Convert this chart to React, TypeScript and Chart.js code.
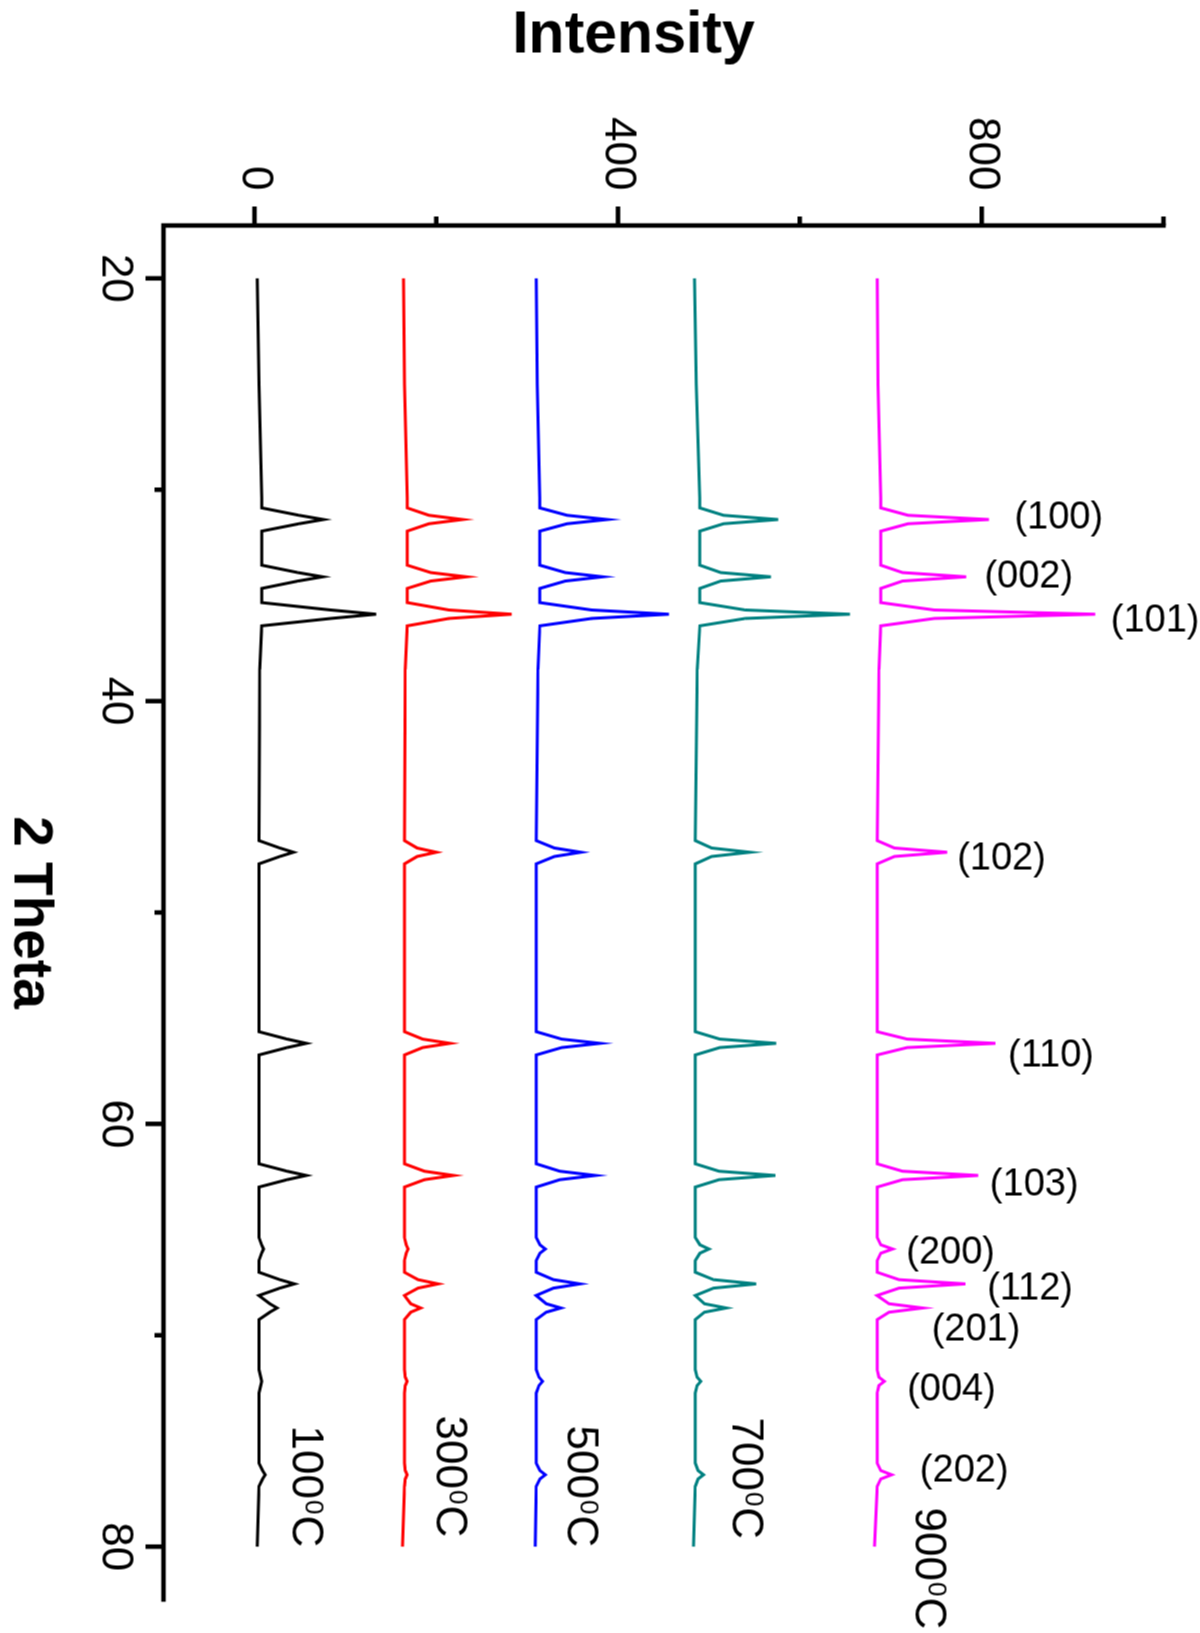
import { useEffect, useRef } from "react";
import { Chart, registerables } from "chart.js";

Chart.register(...registerables);
Chart.defaults.font.family = "'Liberation Sans', Arial, Helvetica, sans-serif";
Chart.defaults.color = "#000";

// 2-theta positions shared by all traces (degrees): background, then for each
// reflection the foot, shoulder, apex, shoulder, foot
const twoTheta = [
  20, 25, 30.4,
  30.86, 31.21, 31.41, 31.61, 31.96,
  33.57, 33.92, 34.12, 34.32, 34.67,
  35.34, 35.69, 35.89, 36.09, 36.44,
  38.5,
  46.6, 46.95, 47.15, 47.35, 47.7,
  55.64, 55.99, 56.19, 56.39, 56.74,
  61.89, 62.24, 62.44, 62.64, 62.99,
  65.37, 65.72, 65.92, 66.12, 66.47,
  67.02, 67.37, 67.57, 67.77, 68.12,
  68.16, 68.51, 68.71, 68.91, 69.26,
  71.63, 71.98, 72.18, 72.38, 72.73,
  76.05, 76.4, 76.6, 76.8, 77.15,
  80,
];

// plotted intensity (stacked offsets included)
const trace100 = [
  3, 5, 8,
  8, 49, 76, 49, 8,
  8, 48, 75, 48, 8,
  8, 84, 134, 84, 8,
  6,
  5, 28, 43, 28, 5,
  5, 36, 57, 36, 5,
  5, 36, 57, 36, 5,
  5, 8, 10, 8, 5,
  5, 28, 44, 28, 5,
  5, 17, 25, 17, 5,
  5, 7, 8, 7, 5,
  5, 9, 12, 9, 5,
  3,
];
const trace300 = [
  164, 165, 168,
  168, 192, 229, 192, 168,
  168, 194, 233, 194, 168,
  168, 214, 283, 214, 168,
  166,
  165, 179, 200, 179, 165,
  165, 185, 215, 185, 165,
  165, 187, 219, 187, 165,
  165, 167, 169, 167, 165,
  165, 180, 202, 180, 165,
  165, 172, 183, 172, 165,
  165, 166, 168, 166, 165,
  165, 166, 168, 166, 165,
  163,
];
const trace500 = [
  310, 311, 314,
  314, 344, 388, 344, 314,
  314, 342, 383, 342, 314,
  314, 371, 456, 371, 314,
  312,
  310, 330, 359, 330, 310,
  310, 338, 380, 338, 310,
  310, 336, 375, 336, 310,
  310, 314, 320, 314, 310,
  310, 329, 358, 329, 310,
  310, 321, 337, 321, 310,
  310, 313, 317, 313, 310,
  310, 314, 320, 314, 310,
  309,
];
const trace700 = [
  484, 486, 490,
  490, 516, 576, 516, 490,
  490, 513, 568, 513, 490,
  490, 540, 655, 540, 490,
  487,
  485, 503, 545, 503, 485,
  485, 512, 574, 512, 485,
  485, 511, 573, 511, 485,
  485, 490, 500, 490, 485,
  485, 505, 552, 505, 485,
  485, 495, 519, 495, 485,
  485, 487, 491, 487, 485,
  485, 488, 494, 488, 485,
  483,
];
const trace900 = [
  685, 686, 689,
  689, 719, 808, 719, 689,
  689, 713, 783, 713, 689,
  689, 748, 925, 748, 689,
  687,
  685, 704, 762, 704, 685,
  685, 718, 815, 718, 685,
  685, 713, 796, 713, 685,
  685, 689, 702, 689, 685,
  685, 709, 782, 709, 685,
  685, 698, 735, 698, 685,
  685, 687, 693, 687, 685,
  685, 689, 701, 689, 685,
  682,
];

const temperatures = ["100", "300", "500", "700", "900"];
const colors = ["#000000", "#ff0000", "#0000ff", "#008080", "#ff00ff"];
// temperature label anchors: start (2-theta) and baseline (intensity)
const tempLabelTheta = [74.27, 73.8, 74.27, 73.89, 78.15];
const tempLabelIntensity = [42, 200, 344, 526, 727];

const hklLabels = ["(100)", "(002)", "(101)", "(102)", "(110)", "(103)", "(200)", "(112)", "(201)", "(004)", "(202)"];
const hklTheta = [31.36, 34.13, 36.19, 47.45, 56.77, 62.87, 66.09, 67.79, 69.73, 72.61, 76.4];
const hklIntensity = [836, 803, 942, 773, 829, 809, 717, 806, 745, 718, 732];

const thetaTicks = [20, 40, 60, 80];
const thetaMinorTicks = [30, 50, 70];
const intensityTicks = [0, 400, 800];
const intensityMinorTicks = [200, 600, 1000];

const FONT = "'Liberation Sans', Arial, Helvetica, sans-serif";

const xrdPlugin = {
  id: "xrdDecor",
  afterDraw(chart: Chart) {
    const { ctx, chartArea } = chart;
    const xs = chart.scales.x;
    const ys = chart.scales.y;
    ctx.save();
    ctx.strokeStyle = "#000";
    ctx.fillStyle = "#000";

    // axis lines
    ctx.lineWidth = 4.5;
    ctx.lineCap = "square";
    ctx.beginPath();
    ctx.moveTo(chartArea.right, chartArea.bottom);
    ctx.lineTo(chartArea.left, chartArea.bottom);
    ctx.lineTo(chartArea.left, chartArea.top);
    ctx.stroke();

    // tick marks
    ctx.lineCap = "butt";
    ctx.beginPath();
    thetaTicks.forEach((t) => {
      const u = xs.getPixelForValue(t);
      ctx.moveTo(u, chartArea.bottom);
      ctx.lineTo(u, chartArea.bottom + 18);
    });
    thetaMinorTicks.forEach((t) => {
      const u = xs.getPixelForValue(t);
      ctx.moveTo(u, chartArea.bottom);
      ctx.lineTo(u, chartArea.bottom + 9);
    });
    intensityTicks.forEach((t) => {
      const v = ys.getPixelForValue(t);
      ctx.moveTo(chartArea.left, v);
      ctx.lineTo(chartArea.left - 19, v);
    });
    intensityMinorTicks.forEach((t) => {
      const v = ys.getPixelForValue(t);
      ctx.moveTo(chartArea.left, v);
      ctx.lineTo(chartArea.left - 9, v);
    });
    ctx.stroke();

    // intensity title (reads horizontally once the figure is turned)
    ctx.save();
    ctx.translate(52, 567);
    ctx.rotate(-Math.PI / 2);
    ctx.font = `bold 59px ${FONT}`;
    ctx.textAlign = "center";
    ctx.textBaseline = "alphabetic";
    ctx.fillText("Intensity", 0, 0);
    ctx.restore();

    // reflection labels
    ctx.font = `38px ${FONT}`;
    hklLabels.forEach((txt, i) => {
      ctx.save();
      ctx.translate(xs.getPixelForValue(hklTheta[i]), ys.getPixelForValue(hklIntensity[i]));
      ctx.rotate(-Math.PI / 2);
      ctx.textAlign = "left";
      ctx.textBaseline = "middle";
      ctx.fillText(txt, 0, 0);
      ctx.restore();
    });

    // temperature labels, e.g. 100^0C
    ctx.textAlign = "left";
    ctx.textBaseline = "alphabetic";
    temperatures.forEach((tmp, i) => {
      const u = xs.getPixelForValue(tempLabelTheta[i]);
      const v = ys.getPixelForValue(tempLabelIntensity[i]);
      ctx.font = `44px ${FONT}`;
      ctx.fillText(tmp, u, v);
      const w1 = ctx.measureText(tmp).width;
      ctx.font = `26px ${FONT}`;
      ctx.fillText("0", u + w1 + 1, v - 13);
      const w2 = ctx.measureText("0").width;
      ctx.font = `44px ${FONT}`;
      ctx.fillText("C", u + w1 + w2 + 2, v);
    });

    ctx.restore();
  },
};

export default function App() {
  const canvasRef = useRef<HTMLCanvasElement>(null);
  const chartRef = useRef<Chart | null>(null);

  useEffect(() => {
    document.body.style.margin = "0";
    if (!canvasRef.current) return;
    if (chartRef.current) chartRef.current.destroy();

    const traces = [trace100, trace300, trace500, trace700, trace900];

    chartRef.current = new Chart(canvasRef.current, {
      type: "line",
      data: {
        datasets: traces.map((vals, i) => ({
          label: `${temperatures[i]} C`,
          data: twoTheta.map((t, j) => ({ x: t, y: vals[j] })),
          borderColor: colors[i],
          backgroundColor: colors[i],
          borderWidth: 3,
          pointRadius: 0,
          tension: 0,
          fill: false,
        })),
      },
      options: {
        responsive: false,
        animation: false,
        layout: { padding: { top: 37, right: 34, left: 0, bottom: 0 } },
        plugins: {
          legend: { display: false },
          tooltip: { enabled: false },
        },
        scales: {
          x: {
            type: "linear",
            min: 17.5,
            max: 82.5,
            afterBuildTicks: (s: any) => {
              s.ticks = thetaTicks.map((v) => ({ value: v }));
            },
            afterFit: (s: any) => {
              s.height = 163;
              s.paddingLeft = 0;
              s.paddingRight = 0;
            },
            grid: { display: false, drawTicks: false },
            border: { display: false },
            ticks: { font: { size: 44 }, color: "#000", padding: 22, maxRotation: 0, autoSkip: false },
            title: {
              display: true,
              text: "2 Theta",
              font: { size: 55, weight: "bold" },
              color: "#000",
              padding: { top: 0, bottom: -4 },
            },
          },
          y: {
            type: "linear",
            min: -100,
            max: 1000,
            afterBuildTicks: (s: any) => {
              s.ticks = intensityTicks.map((v) => ({ value: v }));
            },
            afterFit: (s: any) => {
              s.width = 225;
              s.paddingTop = 0;
              s.paddingBottom = 0;
            },
            grid: { display: false, drawTicks: false },
            border: { display: false },
            ticks: { font: { size: 44 }, color: "#000", padding: 35 },
          },
        },
      },
      plugins: [xrdPlugin],
    });

    return () => {
      chartRef.current?.destroy();
      chartRef.current = null;
    };
  }, []);

  return (
    <div style={{ position: "relative", width: 1200, height: 1633, overflow: "hidden", background: "#fff" }}>
      <canvas
        ref={canvasRef}
        width={1633}
        height={1200}
        style={{
          position: "absolute",
          left: -216.5,
          top: 216.5,
          width: 1633,
          height: 1200,
          transform: "rotate(90deg)",
        }}
      />
    </div>
  );
}
